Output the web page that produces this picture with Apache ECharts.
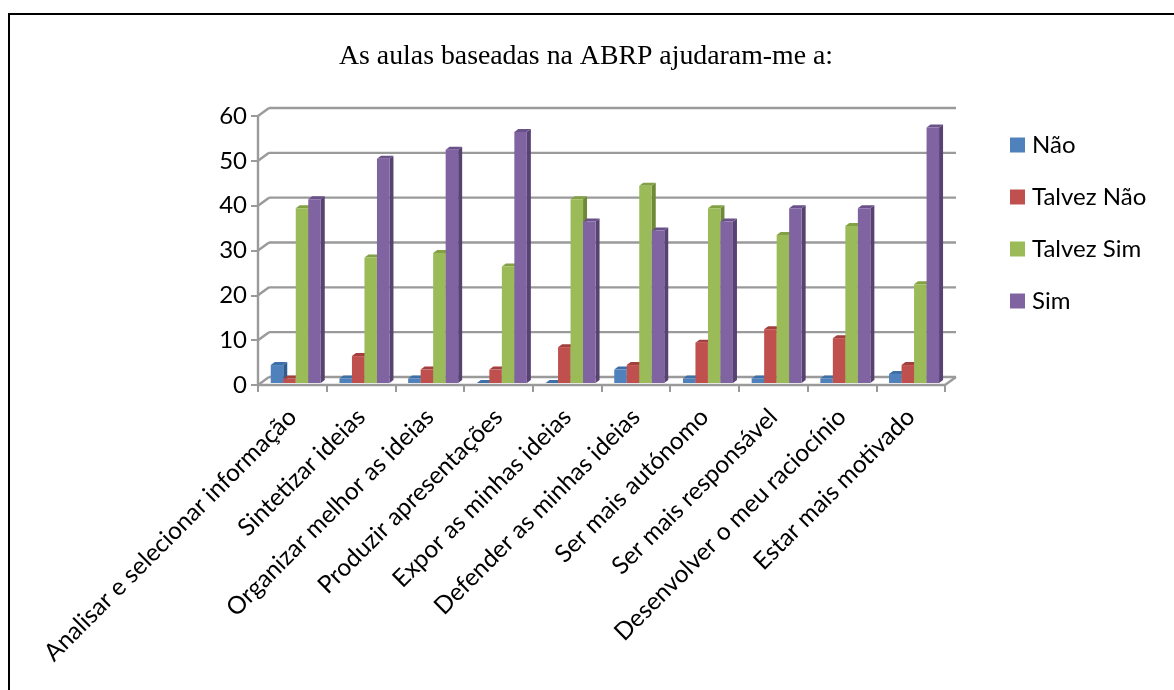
<!DOCTYPE html>
<html><head><meta charset="utf-8">
<style>html,body{margin:0;padding:0;background:#fff}#c{width:1174px;height:690px}</style>
<script src="https://cdn.jsdelivr.net/npm/echarts@6/dist/echarts.min.js"></script>
</head><body><div id="c"></div>
<script>
const categories = ["Analisar e selecionar informação","Sintetizar ideias","Organizar melhor as ideias","Produzir apresentações","Expor as minhas ideias","Defender as minhas ideias","Ser mais autónomo","Ser mais responsável","Desenvolver o meu raciocínio","Estar mais motivado"];
const seriesNames = ["Não","Talvez Não","Talvez Sim","Sim"];
const nao = [4,1,1,0,0,3,1,1,1,2];
const talvezNao = [1,6,3,3,8,4,9,12,10,4];
const talvezSim = [39,28,29,26,41,44,39,33,35,22];
const sim = [41,50,52,56,36,34,36,39,39,57];
const yTicks = [0,10,20,30,40,50,60];
const fronts = ["#4f81bd","#c0504d","#9bbb59","#8064a2"];
const sides = ["#2f5d8f","#8f3431","#6f8a36","#574272"];
const tops = ["#3d6fa8","#a33f3c","#82a044","#6a5189"];
const DX = 11, DY = -8, GRID = "#9a9a9a";

function wall(params, api){
  const v = api.value(0);
  const n = categories.length;
  const a = api.coord([0, v]), s = api.size([1,0])[0];
  const x0 = a[0] - s/2, x1 = x0 + s*n, y = a[1];
  const st = {stroke:GRID, lineWidth:2.4, fill:null};
  const ch = [
    {type:'line',shape:{x1:x0,y1:y,x2:x0+DX,y2:y+DY},style:st},
    {type:'line',shape:{x1:x0+DX,y1:y+DY,x2:x1+DX,y2:y+DY},style:st}
  ];
  if(v===0) ch.push({type:'line',shape:{x1:x1,y1:y,x2:x1+DX,y2:y+DY},style:st});
  return {type:'group',children:ch};
}
function bar3d(k){
  return function(params, api){
    const i = api.value(0), v = api.value(1);
    const p = api.coord([i, v]), b = api.coord([i, 0]), s = api.size([1,0])[0];
    const w = s*0.182, d = 4, off = 3.4, lift = 2;
    const x = p[0] + off + (k-2)*w;
    const t = p[1]-lift, bt = b[1]-lift;
    return {type:'group',children:[
      {type:'polygon',shape:{points:[[x+w,t],[x+w+d,t-3],[x+w+d,bt-3],[x+w,bt]]},style:{fill:sides[k]}},
      {type:'polygon',shape:{points:[[x,t],[x+d,t-3],[x+w+d,t-3],[x+w,t]]},style:{fill:tops[k]}},
      {type:'rect',shape:{x:x,y:t,width:w,height:Math.max(bt-t,0)},style:{fill:fronts[k]}}
    ]};
  };
}
const values = [nao,talvezNao,talvezSim,sim];
const chart = echarts.init(document.getElementById('c'),null,{renderer:'canvas'});
chart.setOption({
  animation:false,
  backgroundColor:'#fff',
  graphic:[
    {type:'line',shape:{x1:9,y1:14,x2:9,y2:690},style:{stroke:'#000',lineWidth:2},silent:true},
    {type:'line',shape:{x1:8,y1:14,x2:1174,y2:14},style:{stroke:'#000',lineWidth:2},silent:true}
  ],
  title:{text:'As aulas baseadas na ABRP ajudaram-me a:',left:581,top:38,textAlign:'center',
    textStyle:{fontFamily:'Liberation Serif',fontSize:27.8,fontWeight:'normal',color:'#000'}},
  legend:{orient:'vertical',left:1005,top:128,itemWidth:15,itemHeight:15,itemGap:28,icon:'rect',data:seriesNames,
    textStyle:{fontFamily:'Lato',fontSize:24,color:'#000',padding:[0,0,0,2]},selectedMode:false},
  grid:{left:258,top:116,width:687,height:269},
  xAxis:{type:'category',data:categories,boundaryGap:true,
    axisLine:{lineStyle:{color:GRID,width:2.4}},
    axisTick:{show:true,length:7,alignWithLabel:false,lineStyle:{color:GRID,width:2}},
    axisLabel:{rotate:45,interval:0,margin:28,fontFamily:'Lato',fontSize:24.4,color:'#000'}},
  yAxis:{type:'value',min:0,max:60,interval:10,
    axisLine:{show:true,lineStyle:{color:GRID,width:2.4}},
    axisTick:{show:true,length:7,lineStyle:{color:GRID,width:2}},
    splitLine:{show:false},
    axisLabel:{margin:11,fontFamily:'Lato',fontSize:24,color:'#000'}},
  series:[
    {type:'custom',name:'grid',silent:true,z:1,data:yTicks.map(v=>[v]),encode:{y:0},renderItem:wall,legendHoverLink:false},
    ...seriesNames.map((n,k)=>({
      type:'custom',name:n,z:3+k,itemStyle:{color:fronts[k]},
      data:values[k].map((v,i)=>[i,v]),encode:{x:0,y:1},renderItem:bar3d(k)
    }))
  ]
});
</script></body></html>
